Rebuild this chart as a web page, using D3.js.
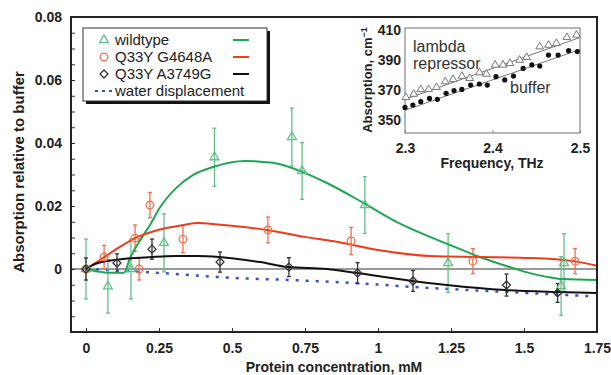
<!DOCTYPE html>
<meta charset="utf-8">
<html>
<head>
<script src="https://d3js.org/d3.v7.min.js"></script>
<style>
  body { margin: 0; background: white; }
  text { font-family: "Liberation Sans", Arial, sans-serif; }
</style>
</head>
<body>
<svg id="chart"></svg>
<script>
// main plot data: protein concentration (mM) vs absorption relative to buffer
var wtX   = [0, 0.075, 0.154, 0.267, 0.440, 0.705, 0.740, 0.955, 1.240, 1.627, 1.637];
var wtY   = [0, -0.0055, 0, 0.0083, 0.0355, 0.0419, 0.0311, 0.0203, 0.0019, -0.0054, 0.0019];
var wtErr = [0.0095, 0.0085, 0.0095, 0.0092, 0.0092, 0.0092, 0.009, 0.009, 0.0093, 0.0093, 0.0093];

var g46X   = [0, 0.062, 0.168, 0.182, 0.219, 0.332, 0.623, 0.908, 1.325, 1.675];
var g46Y   = [0, 0.0038, 0.0098, 0, 0.0203, 0.0095, 0.0124, 0.0089, 0.0025, 0.0025];
var g46Err = [0, 0.0037, 0.0042, 0.0035, 0.004, 0.0043, 0.0041, 0.0043, 0.004, 0.004];

var a37X   = [0, 0.106, 0.226, 0.459, 0.695, 0.930, 1.120, 1.440, 1.615];
var a37Y   = [0, 0.0019, 0.0063, 0.0022, 0.0006, -0.0013, -0.0038, -0.0051, -0.0076];
var a37Err = [0.0035, 0.0029, 0.0032, 0.0032, 0.003, 0.0033, 0.0033, 0.0035, 0.003];

// fitted curves
var wtFitX = [0, 0.04, 0.08, 0.13, 0.151, 0.19, 0.219, 0.253, 0.312, 0.366, 0.435, 0.545, 0.64, 0.736, 0.825, 0.95, 1.065, 1.178, 1.29, 1.349, 1.408, 1.462, 1.52, 1.579, 1.634, 1.75];
var wtFitY = [0, -0.0008, -0.0012, -0.0012, 0.0035, 0.0098, 0.014, 0.0195, 0.026, 0.0298, 0.0324, 0.0343, 0.0337, 0.031, 0.0273, 0.021, 0.0149, 0.0102, 0.006, 0.0038, 0.0019, 0.0003, -0.0013, -0.0025, -0.0032, -0.0035];

var g46FitX = [0, 0.058, 0.116, 0.168, 0.247, 0.329, 0.384, 0.452, 0.62, 0.75, 0.85, 1.0, 1.178, 1.35, 1.52, 1.67, 1.75];
var g46FitY = [0, 0.0035, 0.007, 0.0098, 0.0124, 0.0139, 0.0146, 0.0141, 0.0124, 0.0102, 0.0088, 0.006, 0.0041, 0.0038, 0.0035, 0.0025, 0.001];

var a37FitX = [0, 0.031, 0.1, 0.226, 0.305, 0.384, 0.455, 0.596, 0.692, 0.825, 0.928, 1.116, 1.236, 1.435, 1.613, 1.75];
var a37FitY = [0, 0.0016, 0.0029, 0.0038, 0.0041, 0.0041, 0.0038, 0.0022, 0.0006, 0, -0.0013, -0.0038, -0.0051, -0.0067, -0.0073, -0.0076];

var waterX = [0, 0.05, 0.21, 0.5, 0.70, 0.91, 1.12, 1.44, 1.72];
var waterY = [0, -0.0002, -0.001, -0.0028, -0.0035, -0.0044, -0.0057, -0.0073, -0.0086];

var xTicks = [0, 0.25, 0.5, 0.75, 1, 1.25, 1.5, 1.75];
var yTicks = [0, 0.02, 0.04, 0.06, 0.08];

var legendNames = ["wildtype", "Q33Y G4648A", "Q33Y A3749G", "water displacement"];

// inset data: frequency (THz) vs absorption (cm^-1)
var inFreqA = [2.301, 2.310, 2.318, 2.327, 2.336, 2.346, 2.355, 2.365, 2.374, 2.385, 2.393, 2.403, 2.412, 2.420, 2.431, 2.439, 2.454, 2.464, 2.473, 2.485, 2.496];
var inLambda = [365.1, 367.3, 370.4, 370.4, 371.8, 375.6, 377.1, 379.3, 377.8, 381.6, 380.7, 386.7, 386.7, 387.8, 390, 391.8, 398.9, 400, 401.1, 405.1, 406.7];
var inFreqB = [2.300, 2.309, 2.318, 2.328, 2.337, 2.347, 2.356, 2.365, 2.375, 2.385, 2.394, 2.404, 2.414, 2.424, 2.435, 2.445, 2.454, 2.464, 2.475, 2.487, 2.497];
var inBuffer = [358.4, 360, 362.2, 364.4, 363.8, 367.8, 369.6, 370.4, 373.3, 374, 373.3, 378.9, 376.7, 379.3, 384.4, 386.7, 386, 393.3, 393.3, 396.2, 395.6];
var inFitX = [2.3, 2.5];
var inLambdaFit = [363.8, 405.0];
var inBufferFit = [356.5, 397.0];
var inXTicks = [2.3, 2.4, 2.5];
var inYTicks = [350, 370, 390, 410];

var W = 611, H = 375;
var svg = d3.select("#chart").attr("width", W).attr("height", H);
svg.append("rect").attr("width", W).attr("height", H).attr("fill", "white");

var mLeft = 71, mRight = 597, mTop = 17, mBottom = 332;
var x = d3.scaleLinear().domain([0, 1.75]).range([86, 597]);
var y = d3.scaleLinear().domain([-0.02, 0.08]).range([mBottom, mTop]);

var green = "#1fa653", greenL = "#62c088";
var red = "#ee3b1c", redL = "#f0704c";
var black = "#111", blackL = "#333";
var blue = "#3a4fc2";

// zero line
svg.append("line")
  .attr("x1", mLeft).attr("x2", mRight)
  .attr("y1", y(0)).attr("y2", y(0))
  .style("stroke", "#999").style("stroke-width", 2);

// ticks inside the frame
var minor = d3.range(-0.015, 0.0801, 0.005);
svg.append("g")
  .attr("transform", "translate(" + mLeft + ",0)")
  .call(d3.axisRight(y).tickValues(minor).tickSize(4).tickFormat(""))
  .call(function(g) { g.select(".domain").remove(); g.selectAll("line").style("stroke", "#333"); });
svg.append("g")
  .attr("transform", "translate(" + mLeft + ",0)")
  .call(d3.axisLeft(y).tickValues(yTicks).tickSize(0).tickPadding(9)
    .tickFormat(function(d) { return d === 0 ? "0" : d3.format(".2f")(d); }))
  .call(function(g) { g.select(".domain").remove(); })
  .selectAll("text")
    .style("font-size", "14px").style("font-weight", "bold").style("fill", "#222")
    .style("font-family", "Liberation Sans, Arial, sans-serif");

svg.append("g")
  .attr("transform", "translate(0," + mBottom + ")")
  .call(d3.axisTop(x).tickValues(xTicks).tickSize(4).tickFormat(""))
  .call(function(g) { g.select(".domain").remove(); g.selectAll("line").style("stroke", "#333"); });
svg.append("g")
  .attr("transform", "translate(0," + mBottom + ")")
  .call(d3.axisBottom(x).tickValues(xTicks).tickSize(0).tickPadding(11)
    .tickFormat(function(d) { return String(d); }))
  .call(function(g) { g.select(".domain").remove(); })
  .selectAll("text")
    .style("font-size", "14px").style("font-weight", "bold").style("fill", "#222")
    .style("font-family", "Liberation Sans, Arial, sans-serif");

// axis titles
svg.append("text")
  .attr("x", (mLeft + mRight) / 2).attr("y", 372)
  .attr("text-anchor", "middle")
  .style("font-size", "14px").style("font-weight", "bold").style("fill", "#222")
  .text("Protein concentration,  mM");
svg.append("text")
  .attr("transform", "translate(24," + 172 + ")rotate(-90)")
  .attr("text-anchor", "middle")
  .style("font-size", "15px").style("font-weight", "bold").style("fill", "#222")
  .text("Absorption relative to buffer");

// curves
var line = d3.line().x(function(d) { return x(d[0]); }).y(function(d) { return y(d[1]); })
  .curve(d3.curveMonotoneX);
function zip(a, b) { return a.map(function(v, i) { return [v, b[i]]; }); }

svg.append("path").datum(zip(waterX, waterY)).attr("d", line)
  .attr("fill", "none").style("stroke", blue).style("stroke-width", 2.5)
  .style("stroke-dasharray", "3,7");

// error bars + markers
function errorBars(xs, ys, es, color) {
  var g = svg.append("g").style("stroke", color).style("stroke-width", 1.3);
  xs.forEach(function(v, i) {
    if (!es[i]) return;
    var cx = x(v), y1 = y(ys[i] + es[i]), y2 = y(ys[i] - es[i]);
    g.append("line").attr("x1", cx).attr("x2", cx).attr("y1", y1).attr("y2", y2);
    g.append("line").attr("x1", cx - 2).attr("x2", cx + 2).attr("y1", y1).attr("y2", y1);
    g.append("line").attr("x1", cx - 2).attr("x2", cx + 2).attr("y1", y2).attr("y2", y2);
  });
}
errorBars(wtX, wtY, wtErr, greenL);
errorBars(g46X, g46Y, g46Err, redL);
errorBars(a37X, a37Y, a37Err, blackL);

svg.append("path").datum(zip(wtFitX, wtFitY)).attr("d", line)
  .attr("fill", "none").style("stroke", green).style("stroke-width", 2);
svg.append("path").datum(zip(g46FitX, g46FitY)).attr("d", line)
  .attr("fill", "none").style("stroke", red).style("stroke-width", 2);
svg.append("path").datum(zip(a37FitX, a37FitY)).attr("d", line)
  .attr("fill", "none").style("stroke", black).style("stroke-width", 2);

var tri = d3.symbol().type(d3.symbolTriangle).size(34);
var diamond = "M0,-4L4,0L0,4L-4,0Z";

svg.append("g").selectAll("path").data(zip(wtX, wtY)).enter().append("path")
  .attr("d", tri)
  .attr("transform", function(d) { return "translate(" + x(d[0]) + "," + y(d[1]) + ")"; })
  .attr("fill", "none").style("stroke", greenL).style("stroke-width", 1.3);
svg.append("g").selectAll("circle").data(zip(g46X, g46Y)).enter().append("circle")
  .attr("cx", function(d) { return x(d[0]); }).attr("cy", function(d) { return y(d[1]); })
  .attr("r", 3.8)
  .attr("fill", "none").style("stroke", redL).style("stroke-width", 1.3);
svg.append("g").selectAll("path").data(zip(a37X, a37Y)).enter().append("path")
  .attr("d", diamond)
  .attr("transform", function(d) { return "translate(" + x(d[0]) + "," + y(d[1]) + ")"; })
  .attr("fill", "none").style("stroke", blackL).style("stroke-width", 1.3);

// frame
svg.append("rect")
  .attr("x", mLeft).attr("y", mTop).attr("width", mRight - mLeft).attr("height", mBottom - mTop)
  .attr("fill", "none").style("stroke", "#222").style("stroke-width", 2);

// legend with drop shadow
var lg = svg.append("g");
lg.append("rect").attr("x", 86).attr("y", 31).attr("width", 184).attr("height", 73).attr("fill", "#111");
lg.append("rect").attr("x", 83).attr("y", 28).attr("width", 184).attr("height", 73)
  .attr("fill", "white").style("stroke", "#333").style("stroke-width", 1);
var rows = [45, 62, 79, 96];
var lineCols = [green, red, black];
legendNames.forEach(function(name, i) {
  lg.append("text").attr("x", 115).attr("y", rows[i])
    .style("font-size", "15px").style("fill", "#222").text(name);
  if (i < 3) {
    lg.append("line").attr("x1", 233).attr("x2", 249)
      .attr("y1", rows[i] - 5).attr("y2", rows[i] - 5)
      .style("stroke", lineCols[i]).style("stroke-width", 2);
  }
});
lg.append("path").attr("d", tri).attr("transform", "translate(104," + (rows[0] - 5) + ")")
  .attr("fill", "none").style("stroke", greenL).style("stroke-width", 1.3);
lg.append("circle").attr("cx", 104).attr("cy", rows[1] - 5).attr("r", 3.8)
  .attr("fill", "none").style("stroke", redL).style("stroke-width", 1.3);
lg.append("path").attr("d", diamond).attr("transform", "translate(104," + (rows[2] - 5) + ")")
  .attr("fill", "none").style("stroke", blackL).style("stroke-width", 1.3);
lg.append("line").attr("x1", 95).attr("x2", 114).attr("y1", rows[3] - 5).attr("y2", rows[3] - 5)
  .style("stroke", blue).style("stroke-width", 2).style("stroke-dasharray", "3,4");

// inset
var ix = d3.scaleLinear().domain([2.3, 2.5]).range([405, 580]);
var iy = d3.scaleLinear().domain([350, 410]).range([120, 30]);
var ig = svg.append("g");
ig.append("rect").attr("x", 405).attr("y", 28).attr("width", 175).attr("height", 105)
  .attr("fill", "white").style("stroke", "#888").style("stroke-width", 1.2);

ig.append("g").attr("transform", "translate(0,133)")
  .call(d3.axisTop(ix).tickValues(inXTicks).tickSize(3).tickFormat(""))
  .call(function(g) { g.select(".domain").remove(); g.selectAll("line").style("stroke", "#888"); });
ig.append("g").attr("transform", "translate(0,133)")
  .call(d3.axisBottom(ix).tickValues(inXTicks).tickSize(0).tickPadding(10).tickFormat(d3.format(".1f")))
  .call(function(g) { g.select(".domain").remove(); })
  .selectAll("text")
    .style("font-size", "14px").style("font-weight", "bold").style("fill", "#222")
    .style("font-family", "Liberation Sans, Arial, sans-serif");
ig.append("g").attr("transform", "translate(405,0)")
  .call(d3.axisLeft(iy).tickValues(inYTicks).tickSize(0).tickPadding(4))
  .call(function(g) { g.select(".domain").remove(); })
  .selectAll("text")
    .style("font-size", "14px").style("font-weight", "bold").style("fill", "#222")
    .style("font-family", "Liberation Sans, Arial, sans-serif");

ig.append("text").attr("x", 492).attr("y", 168).attr("text-anchor", "middle")
  .style("font-size", "14px").style("font-weight", "bold").style("fill", "#222")
  .text("Frequency,  THz");
var yl = ig.append("text").attr("transform", "translate(372,80)rotate(-90)")
  .attr("text-anchor", "middle")
  .style("font-size", "13px").style("font-weight", "bold").style("fill", "#222");
yl.append("tspan").text("Absorption, cm");
yl.append("tspan").attr("dy", -5).style("font-size", "9px").text("\u22121");

var iline = d3.line().x(function(d) { return ix(d[0]); }).y(function(d) { return iy(d[1]); });
ig.append("path").datum(zip(inFitX, inLambdaFit)).attr("d", iline)
  .attr("fill", "none").style("stroke", "#777").style("stroke-width", 1);
ig.append("path").datum(zip(inFitX, inBufferFit)).attr("d", iline)
  .attr("fill", "none").style("stroke", "#777").style("stroke-width", 1);

var itri = d3.symbol().type(d3.symbolTriangle).size(26);
ig.append("g").selectAll("path").data(zip(inFreqA, inLambda)).enter().append("path")
  .attr("d", itri)
  .attr("transform", function(d) { return "translate(" + ix(d[0]) + "," + iy(d[1]) + ")"; })
  .attr("fill", "white").style("stroke", "#777").style("stroke-width", 1);
ig.append("g").selectAll("circle").data(zip(inFreqB, inBuffer)).enter().append("circle")
  .attr("cx", function(d) { return ix(d[0]); }).attr("cy", function(d) { return iy(d[1]); })
  .attr("r", 2.6).attr("fill", "#111");

ig.append("text").attr("x", 413).attr("y", 52)
  .style("font-size", "16px").style("fill", "#333").text("lambda");
ig.append("text").attr("x", 413).attr("y", 69)
  .style("font-size", "16px").style("fill", "#333").text("repressor");
ig.append("text").attr("x", 510).attr("y", 93)
  .style("font-size", "16px").style("fill", "#333").text("buffer");
</script>
</body>
</html>
